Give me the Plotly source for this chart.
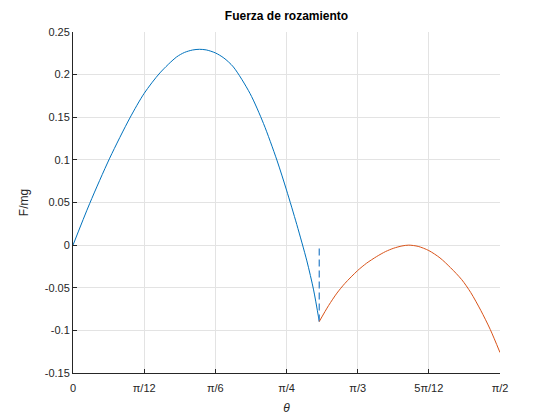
import plotly.graph_objects as go
import math

# Blue branch
theta_blue = [0.0, 0.0616, 0.135, 0.209, 0.2618, 0.3197, 0.381, 0.410, 0.440, 0.465, 0.490, 0.5236, 0.555, 0.590,
              0.651, 0.7007, 0.750, 0.7854, 0.8234, 0.8603, 0.885, 0.906]
f_blue = [0.0, 0.049, 0.102, 0.149, 0.178, 0.202, 0.2207, 0.2260, 0.2289, 0.2297, 0.2290, 0.2255, 0.2195, 0.209,
          0.178, 0.1427, 0.0998, 0.0646, 0.0240, -0.0185, -0.0525, -0.0896]

# Orange branch
theta_orange = [0.906, 0.940, 0.971, 1.000, 1.0472, 1.080, 1.117, 1.150, 1.180, 1.210, 1.235,
                1.270, 1.309, 1.350, 1.389, 1.430, 1.463, 1.500, 1.535, 1.5708]
f_orange = [-0.0896, -0.0710, -0.0563, -0.0450, -0.0298, -0.0212, -0.0134, -0.0075, -0.0036, -0.0010, 0.0,
            -0.0015, -0.0064, -0.0150, -0.0265, -0.0405, -0.0555, -0.0765, -0.0990, -0.126]

# Dashed jump line
theta_jump = [0.906, 0.906]
f_jump = [-0.0896, 0.0]

x_tickvals = [0, math.pi/12, math.pi/6, math.pi/4, math.pi/3, 5*math.pi/12, math.pi/2]
x_ticktext = ["0", "π/12", "π/6", "π/4", "π/3", "5π/12", "π/2"]
y_tickvals = [-0.15, -0.1, -0.05, 0, 0.05, 0.1, 0.15, 0.2, 0.25]
y_ticktext = ["-0.15", "-0.1", "-0.05", "0", "0.05", "0.1", "0.15", "0.2", "0.25"]

fig = go.Figure()
fig.add_trace(go.Scatter(x=theta_blue, y=f_blue, mode="lines",
                         line=dict(color="#0072BD", width=1.0, shape="spline", smoothing=0.8),
                         showlegend=False))
fig.add_trace(go.Scatter(x=theta_jump, y=f_jump, mode="lines",
                         line=dict(color="#4a90d0", width=1.4, dash="7px,4px"),
                         showlegend=False))
fig.add_trace(go.Scatter(x=theta_orange, y=f_orange, mode="lines",
                         line=dict(color="#D95319", width=1.0, shape="spline", smoothing=0.8),
                         showlegend=False))

font_family = "Liberation Sans, Arial, sans-serif"
fig.update_layout(
    width=560, height=420,
    margin=dict(l=73, r=60, t=32, b=47, autoexpand=False),
    paper_bgcolor="white", plot_bgcolor="white",
    font=dict(family=font_family, size=11, color="#262626"),
    title=dict(text="<b>Fuerza de rozamiento</b>", x=0.5, xref="paper", xanchor="center",
               y=1, yref="container", yanchor="top", pad=dict(t=12),
               font=dict(size=12, color="#000000", family=font_family)),
)
fig.update_xaxes(
    range=[0, math.pi/2], tickvals=x_tickvals, ticktext=x_ticktext,
    showgrid=True, gridcolor="#e3e3e3", gridwidth=1,
    showline=True, linecolor="#262626", linewidth=1, mirror=False,
    ticks="inside", ticklen=4, tickcolor="#262626",
    zeroline=False, automargin=False, ticklabelstandoff=5,
    title=dict(text="<i>θ</i>", standoff=10, font=dict(size=12)),
    tickfont=dict(size=11),
)
fig.update_yaxes(
    range=[-0.15, 0.25], tickvals=y_tickvals, ticktext=y_ticktext,
    showgrid=True, gridcolor="#e3e3e3", gridwidth=1,
    showline=True, linecolor="#262626", linewidth=1, mirror=False,
    ticks="inside", ticklen=4, tickcolor="#262626",
    zeroline=False, automargin=False,
    title=dict(text="F/mg", standoff=13, font=dict(size=12)),
    tickfont=dict(size=11),
)

# Remove the default page margin so the figure sits at the window's corner.
fig.write_html("out.html", config={"displayModeBar": False},
               post_script="document.body.style.margin='0';")
